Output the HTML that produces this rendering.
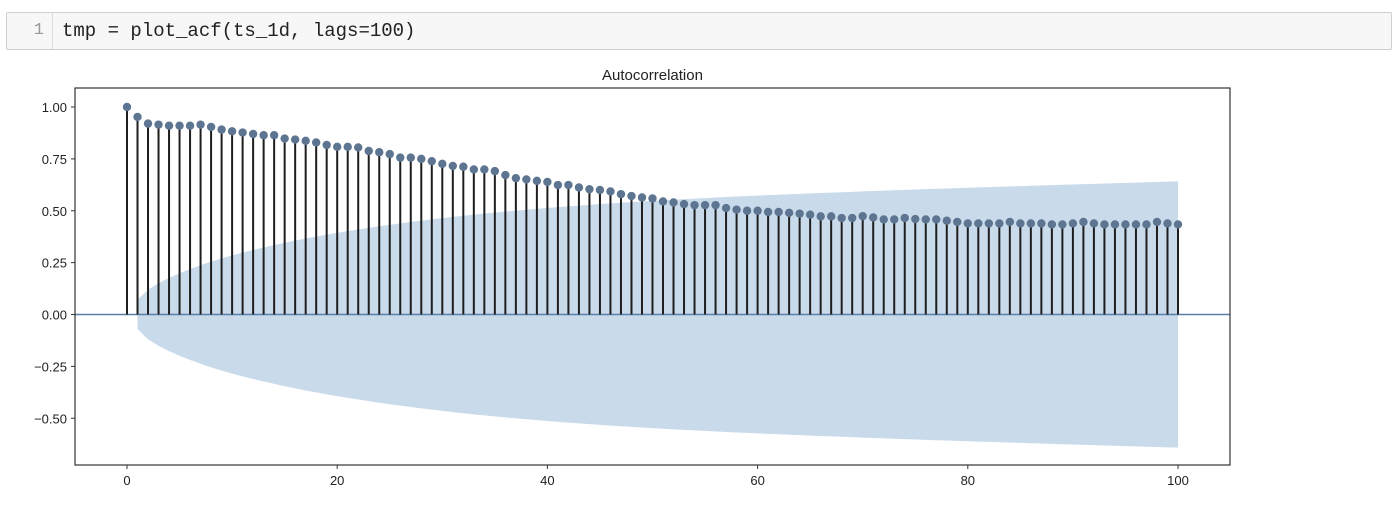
<!DOCTYPE html>
<html><head><meta charset="utf-8"><style>
body{margin:0;width:1400px;height:507px;background:#fff;overflow:hidden;font-family:"Liberation Sans",sans-serif}
.cell{position:absolute;left:6px;top:12px;width:1384px;height:36px;background:#f7f7f7;border:1px solid #cfcfcf;border-radius:2px}
.gut{position:absolute;left:0;top:0;width:46px;height:36px;border-right:1px solid #ddd;color:#999;font-family:"Liberation Mono",monospace;font-size:17px;line-height:36px;text-align:right;box-sizing:border-box;padding-right:8px}
.code{position:absolute;left:55px;top:0;font-family:"Liberation Mono",monospace;font-size:19px;line-height:36px;color:#222}
svg{position:absolute;left:0;top:0}
</style></head><body>
<div class="cell">
<div class="gut">1</div>
<div class="code">tmp = plot_acf(ts_1d, lags=100)</div>
</div>
<svg id="chart" width="1400" height="507"></svg>
<script>
const acfValues=[1.0,0.952,0.92,0.915,0.91,0.91,0.91,0.915,0.904,0.891,0.883,0.877,0.87,0.864,0.864,0.848,0.843,0.837,0.829,0.817,0.808,0.808,0.805,0.788,0.782,0.773,0.756,0.756,0.75,0.739,0.726,0.716,0.712,0.699,0.699,0.691,0.672,0.657,0.651,0.644,0.639,0.624,0.624,0.612,0.604,0.6,0.593,0.58,0.571,0.564,0.559,0.545,0.54,0.532,0.527,0.527,0.527,0.513,0.505,0.5,0.5,0.494,0.494,0.49,0.486,0.481,0.473,0.473,0.465,0.465,0.474,0.468,0.458,0.458,0.465,0.46,0.458,0.458,0.452,0.446,0.439,0.439,0.439,0.439,0.446,0.439,0.439,0.439,0.434,0.434,0.439,0.446,0.439,0.434,0.434,0.434,0.434,0.434,0.446,0.439,0.434];
const nObs=760;
const yTicks=[1.0,0.75,0.5,0.25,0.0,-0.25,-0.5];
const yTickLabels=["1.00","0.75","0.50","0.25","0.00","\u22120.25","\u22120.50"];
const xTicks=[0,20,40,60,80,100];
const xTickLabels=["0","20","40","60","80","100"];
const L=75,R=1230,T=88,B=465;
const X=v=>127+v*10.51;
const Y=v=>314.5-v*207.5;
const svg=document.getElementById('chart');
const NS='http://www.w3.org/2000/svg';
function mk(tag,attrs){const e=document.createElementNS(NS,tag);for(const k in attrs)e.setAttribute(k,attrs[k]);svg.appendChild(e);return e;}
let s=0,up=[],lo=[];
for(let k=1;k<acfValues.length;k++){s+=k>1?acfValues[k-1]**2:0;const h=1.96*Math.sqrt((1+2*s)/nObs);up.push([X(k),Y(h)]);lo.push([X(k),Y(-h)]);}
let d='M'+up.map(p=>p.join(',')).join('L')+'L'+lo.reverse().map(p=>p.join(',')).join('L')+'Z';
const band=mk('path',{d:d,fill:'#c9dbeb'});


const zl=mk('line',{x1:L,x2:R,y1:Y(0),y2:Y(0),stroke:'#5a7ea8','stroke-width':1.5});


acfValues.forEach((v,i)=>{
const st=mk('line',{x1:X(i),x2:X(i),y1:Y(0),y2:Y(v),stroke:'#1e1e1e','stroke-width':2});


const c=mk('circle',{cx:X(i),cy:Y(v),r:4.2,fill:'#5d7590'});


});
const fr=mk('rect',{x:L,y:T,width:R-L,height:B-T,fill:'none',stroke:'#333','stroke-width':1.2});


yTicks.forEach((v,i)=>{
mk('line',{x1:L-4,x2:L,y1:Y(v),y2:Y(v),stroke:'#333'});
const t=mk('text',{x:L-8,y:Y(v)+5,'text-anchor':'end','font-size':13,fill:'#222'});
t.textContent=yTickLabels[i];


});
xTicks.forEach((v,i)=>{
mk('line',{x1:X(v),x2:X(v),y1:B,y2:B+4,stroke:'#333'});
const t=mk('text',{x:X(v),y:B+20,'text-anchor':'middle','font-size':13,fill:'#222'});
t.textContent=xTickLabels[i];


});
const ti=mk('text',{x:(L+R)/2,y:80,'text-anchor':'middle','font-size':15,fill:'#222'});
ti.textContent='Autocorrelation';


</script>
</body></html>
